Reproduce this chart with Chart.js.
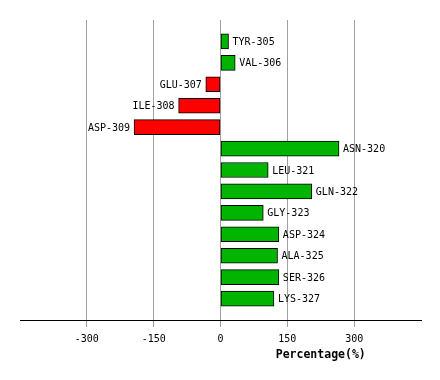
<!DOCTYPE html>
<html>
<head>
<meta charset="utf-8">
<script src="https://cdn.jsdelivr.net/npm/chart.js@4"></script>
<style>
html,body{margin:0;padding:0;background:#fff;}
#wrap{width:440px;height:380px;}
</style>
</head>
<body>
<div id="wrap"><canvas id="c" width="440" height="380"></canvas></div>
<script>
const categories = ['TYR-305','VAL-306','GLU-307','ILE-308','ASP-309','ASN-320','LEU-321','GLN-322','GLY-323','ASP-324','ALA-325','SER-326','LYS-327'];
const values = [18, 33, -33, -94, -194, 266, 107, 205, 96, 131, 128, 131, 120];
const tickValues = [-300, -150, 0, 150, 300];
const axisTitle = 'Percentage(%)';

const labels = [''].concat(categories, ['']);
const data = [null].concat(values, [null]);
const colors = data.map(v => v === null ? '#00b400' : (v >= 0 ? '#00b400' : '#ff0000'));

const barLabels = {
  id: 'barLabels',
  afterDatasetsDraw(chart) {
    const ctx = chart.ctx;
    const meta = chart.getDatasetMeta(0);
    ctx.save();
    ctx.font = '10px "DejaVu Sans Mono"';
    ctx.fillStyle = '#000';
    ctx.textBaseline = 'middle';
    meta.data.forEach((el, i) => {
      const v = data[i];
      if (v === null) return;
      if (v >= 0) { ctx.textAlign = 'left'; ctx.fillText(labels[i], el.x + 4, el.y + 1); }
      else { ctx.textAlign = 'right'; ctx.fillText(labels[i], el.x - 4, el.y + 1); }
    });
    const a = chart.chartArea;
    ctx.font = 'bold 11.5px "DejaVu Sans Mono"';
    ctx.textAlign = 'center';
    ctx.fillText(axisTitle, a.left + (a.right - a.left) * 0.75, a.bottom + 35);
    ctx.restore();
  }
};

new Chart(document.getElementById('c'), {
  type: 'bar',
  data: {
    labels: labels,
    datasets: [{
      data: data,
      backgroundColor: colors,
      borderColor: '#000',
      borderWidth: 1,
      borderSkipped: false,
      barThickness: 15
    }]
  },
  plugins: [barLabels],
  options: {
    indexAxis: 'y',
    responsive: false,
    animation: false,
    layout: { padding: { left: 20, right: 19, top: 20, bottom: 0 } },
    plugins: { legend: { display: false }, tooltip: { enabled: false } },
    scales: {
      x: {
        type: 'linear',
        min: -450,
        max: 450,
        afterBuildTicks: s => { s.ticks = tickValues.map(v => ({ value: v })); },
        afterFit: s => { s.height = 60; },
        grid: { color: '#a0a0a0', tickColor: '#a0a0a0', tickLength: 7, lineWidth: 1 },
        border: { color: '#000', width: 1 },
        ticks: { color: '#000', font: { family: 'DejaVu Sans Mono', size: 10 }, padding: 6, maxRotation: 0 }
      },
      y: {
        type: 'category',
        offset: false,
        display: false
      }
    }
  }
});
</script>
</body>
</html>
